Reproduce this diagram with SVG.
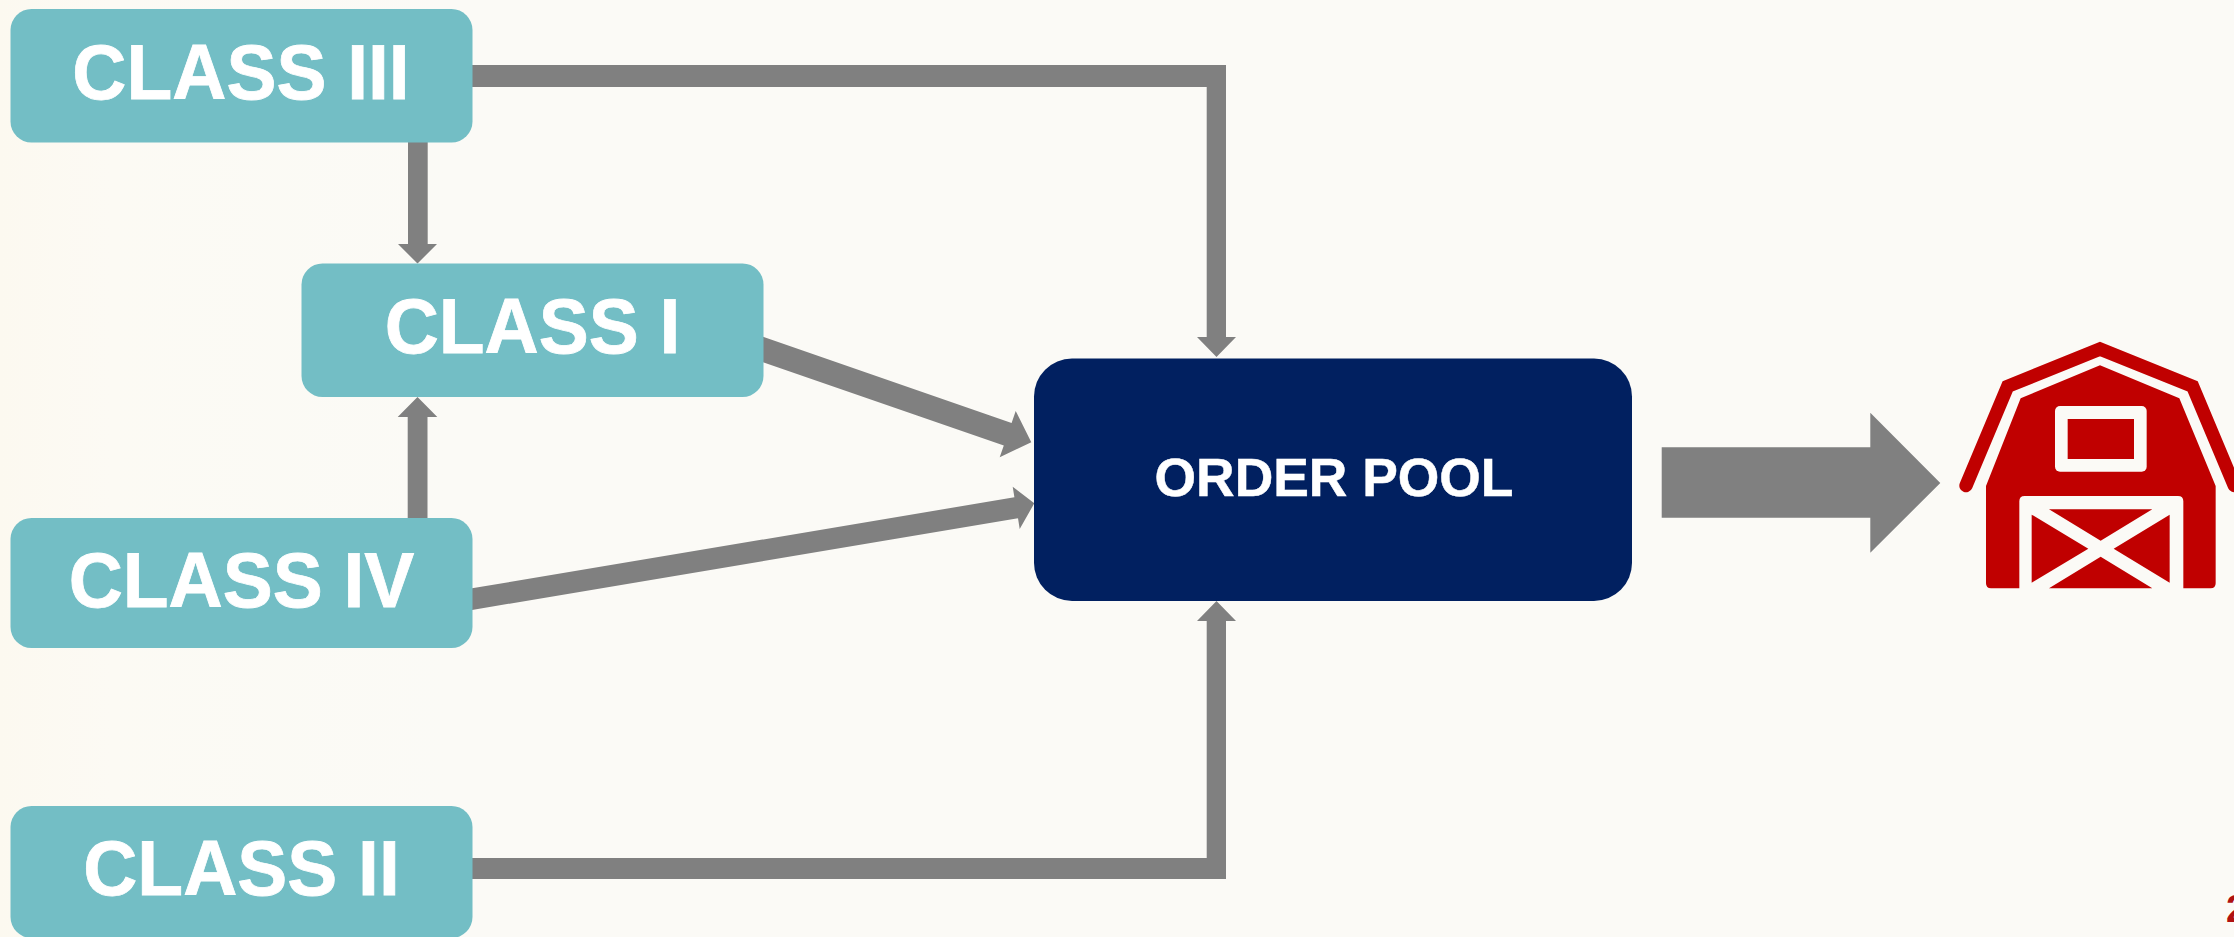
<svg xmlns="http://www.w3.org/2000/svg" width="2234" height="937" viewBox="0 0 2234 937">
<style>
.cls{fill:#73BEC5}
.lbl{font-family:"Liberation Sans",Arial,sans-serif;font-weight:700;font-size:78.5px;fill:#fff;text-anchor:middle;stroke:#fff;stroke-width:0.8px}
.arr{fill:#808080;stroke:none}
</style>
<defs>
<linearGradient id="bg" x1="0" y1="0" x2="1" y2="0">
<stop offset="0" stop-color="#FCF9F0"/><stop offset="0.05" stop-color="#FCFAF4"/><stop offset="0.2" stop-color="#FBFAF6"/><stop offset="1" stop-color="#FBFAF6"/>
</linearGradient>
</defs>
<rect id="background" width="2234" height="937" fill="url(#bg)"/>
<g id="connectors">
<path class="arr" d="M472 65H1226V337H1236L1216.5 357L1197 337H1206.7V87H472Z"/>
<path class="arr" d="M472 858H1206.7V621H1197L1216.5 601L1236 621H1226V879H472Z"/>
<path class="arr" d="M408 142H427.7V244H437L417.5 263.5L398 244H408Z"/>
<path class="arr" d="M407.7 519V417H397.7L417.5 397L437.3 417H427.5V519Z"/>
<path class="arr" d="M763 336.7L1011.6 422.9L1015.7 411L1031.3 442.3L999.7 457.3L1003.8 445.5L763 362.3Z"/>
<path class="arr" d="M472 588.3L1014.4 497.3L1012.7 486.7L1034.3 503.3L1019.7 529L1018 518.3L472 610Z"/>
<path class="arr" id="output-arrow" d="M1661.7 447.3H1870.3V412.7L1940.3 483L1870.3 552.7V517.7H1661.7Z"/>
</g>
<g id="class-iii"><rect class="cls" x="10.5" y="9" width="462" height="133.5" rx="21"/><text class="lbl" transform="translate(241 99) scale(0.955 1)">CLASS III</text></g>
<g id="class-i"><rect class="cls" x="301.5" y="263.5" width="462" height="133.5" rx="21"/><text class="lbl" transform="translate(532.5 353) scale(0.955 1)">CLASS I</text></g>
<g id="class-iv"><rect class="cls" x="10.5" y="518" width="462" height="130" rx="21"/><text class="lbl" transform="translate(241.5 607) scale(0.955 1)">CLASS IV</text></g>
<g id="class-ii"><rect class="cls" x="10.5" y="806" width="462" height="132" rx="21"/><text class="lbl" transform="translate(241.5 894.5) scale(0.955 1)">CLASS II</text></g>
<g id="order-pool"><rect x="1034" y="358.5" width="598" height="242.5" rx="38" fill="#012060"/><text transform="translate(1334 496) scale(0.98 1)" font-family="'Liberation Sans',Arial,sans-serif" font-weight="700" font-size="54.5" fill="#fff" stroke="#fff" stroke-width="0.5" text-anchor="middle">ORDER POOL</text></g>
<g id="barn" transform="translate(1900 320) scale(0.33333)">
<path d="M198 497L323 199L600 87L878 199L1003 497" fill="none" stroke="#C00000" stroke-width="40" stroke-linecap="round" stroke-linejoin="miter"/>
<path d="M600 136L838 235L947 498V790Q947 805 932 805H850V544Q850 528 834 528H374Q358 528 358 544V805H273Q258 805 258 790V498L362 235Z" fill="#C00000"/>
<rect x="465" y="258" width="275" height="197" rx="15" fill="#FBFAF6"/>
<rect x="503" y="297" width="199" height="120" fill="#C00000"/>
<path d="M447 568H757L602 662ZM395 584L565 686L395 788ZM809 584V788L641 686ZM602 710L757 805H447Z" fill="#C00000"/>
</g>
<text id="page-number" x="2226" y="922" font-family="'Liberation Sans',Arial,sans-serif" font-weight="700" font-size="38" fill="#B01212">2</text>
</svg>
